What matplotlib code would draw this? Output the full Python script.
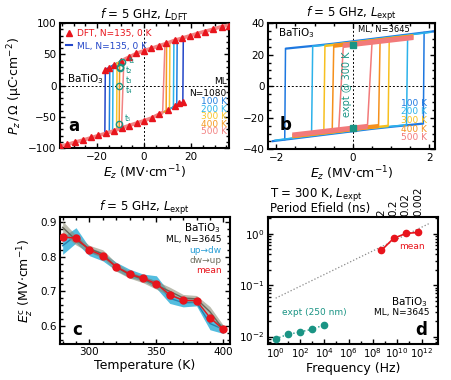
import numpy as np
import matplotlib
matplotlib.use('Agg')
import matplotlib.pyplot as plt
from matplotlib.lines import Line2D
from matplotlib.ticker import AutoMinorLocator, FixedLocator, NullLocator, NullFormatter

#### data

## panel a : DFT cell, lower branch of the loop (upper branch = mirror)
e_low_a = [-37, -33, -29, -25, -21, -17, -13, -9, -5, 0, 3, 6, 9, 12, 15, 17, 20]
p_low_a = [-97.5, -94.5, -90, -86, -81.5, -77, -72.5, -67, -62, -56, -52, -46.5, -41, -35, -29, -25, -19]
e_dft = [-36, -33, -29.5, -26, -22.5, -19.5, -16, -13, -9.5, -6.5, -3, 0, 3.5, 6.5, 10, 13, 15, 16.5]
p_dft = [-96, -94, -90.5, -86.5, -82.5, -79.5, -76, -72.5, -67.5, -64, -60, -56, -51.5, -46, -39, -32.5, -28, -25.5]
labels_a = ['N=135, 0 K', '100 K', '200 K', '300 K', '400 K', '500 K']
ecl_a = [-16.5, -14.6, -13.2, -11.5, -10.4, -8.6]
ecr_a = [16.5, 13.9, 12.5, 10.8, 9.4, 7.9]
t_e = [-9.3, -10.2, -10.4, -10.5, -10.8]
t_p = [38, 30, 28, 0, -62]
t_lab = ['t₁', 't₂', 't₃', 't₄', 't₅']
t_lab_p = [40, 24, 8, -8, -53]

## panel b : expt cell
e_low_b = [-2.4, -2.0, -1.5, -1.0, -0.5, 0, 0.5, 1.0, 1.5, 1.9, 2.4]
p_low_b = [-35.8, -34.5, -33, -31.5, -30, -28.5, -27, -25.7, -24.5, -23.5, -22.3]
temps_b = ['100 K', '200 K', '300 K', '400 K', '500 K']
ecl_b = [-1.76, -1.05, -0.73, -0.50, -0.25]
ecr_b = [1.84, 1.40, 0.92, 0.67, 0.38]
emax_b = [2.12, 2.05, 1.58, 1.58, 1.58]
pscale_b = [1.0, 0.99, 0.97, 0.95, 0.93]
expt_p = [26.2, -26.4]

## panel c : coercive field vs temperature
temp = [280, 290, 300, 310, 320, 330, 340, 350, 360, 370, 380, 390, 400]
ec_mean = [0.857, 0.854, 0.820, 0.803, 0.771, 0.750, 0.738, 0.722, 0.690, 0.674, 0.673, 0.624, 0.590]
ec_up = [0.832, 0.862, 0.815, 0.800, 0.772, 0.752, 0.740, 0.727, 0.680, 0.667, 0.668, 0.607, 0.590]
ec_dw = [0.885, 0.848, 0.823, 0.808, 0.770, 0.748, 0.735, 0.718, 0.700, 0.681, 0.678, 0.641, 0.590]
err_up = [0.025, 0.022, 0.012, 0.012, 0.012, 0.012, 0.010, 0.018, 0.015, 0.012, 0.010, 0.018, 0.012]
err_dw = [0.018, 0.014, 0.010, 0.012, 0.012, 0.010, 0.010, 0.012, 0.012, 0.010, 0.010, 0.015, 0.012]

## panel d : coercive field vs frequency
f_expt = [1, 10, 100, 1000, 10000]
ec_expt = [0.0091, 0.0110, 0.0123, 0.0139, 0.0169]
f_ml = [5e8, 5e9, 5e10, 5e11]
ec_ml = [0.48, 0.82, 1.02, 1.07]
period_lab = ['2', '0.2', '0.02', '0.002']
f_fit = [1, 4.8e12]
ec_fit = [0.056, 1.62]

cols_a = ['#2346c8', '#1f80e0', '#2cb5ea', '#f7c52a', '#f59a22', '#f28383']
cols_b = ['#1e78e0', '#2cb2ea', '#f7c020', '#f5901c', '#f27a7a']
red = '#e8141c'
teal = '#1a9484'

plt.rcParams['font.family'] = ['DejaVu Sans']
plt.rcParams['mathtext.fontset'] = 'dejavusans'


def draw_loop(ax, e_low, p_low, ecl, ecr, emax, color, lw, lw_sw=1.0, w=0.0, scale=1.0, z=2):
    e_low = np.asarray(e_low, float)
    p_low = np.asarray(p_low, float) * scale
    e_up = -e_low[::-1]
    p_up = -p_low[::-1]
    low = lambda e: np.interp(e, e_low, p_low)
    up = lambda e: np.interp(e, e_up, p_up)
    m = (e_low > -emax) & (e_low < ecr)
    ax.plot(np.r_[-emax, e_low[m], ecr], np.r_[low(-emax), p_low[m], low(ecr)],
            color=color, lw=lw, zorder=z, solid_capstyle='butt')
    m = (e_up > ecl) & (e_up < emax)
    ax.plot(np.r_[ecl, e_up[m], emax], np.r_[up(ecl), p_up[m], up(emax)],
            color=color, lw=lw, zorder=z, solid_capstyle='butt')
    ax.plot([ecr, ecr + w], [low(ecr), up(ecr + w)], color=color, lw=lw_sw, zorder=z)
    ax.plot([ecl, ecl - w], [up(ecl), low(ecl - w)], color=color, lw=lw_sw, zorder=z)


def style(ax, minor=True):
    for s in ax.spines.values():
        s.set_linewidth(1.5)
    ax.tick_params(which='both', direction='in', top=True, right=True, labelsize=7.5, width=1)
    ax.tick_params(which='major', length=3.5, pad=2.5)
    ax.tick_params(which='minor', length=2)
    if minor:
        ax.xaxis.set_minor_locator(AutoMinorLocator())
        ax.yaxis.set_minor_locator(AutoMinorLocator())


fig = plt.figure(figsize=(4.51, 3.80), dpi=100)
ax_a = fig.add_axes([0.133, 0.610, 0.375, 0.329])
ax_b = fig.add_axes([0.594, 0.607, 0.371, 0.332])
ax_c = fig.add_axes([0.133, 0.095, 0.377, 0.334])
ax_d = fig.add_axes([0.594, 0.095, 0.377, 0.334])

# ---- a
ax = ax_a
ax.axhline(0, color='k', ls=(0, (2, 2)), lw=0.7, zorder=1)
ax.axvline(0, color='k', ls=(0, (2, 2)), lw=0.7, zorder=1)
for i in range(6):
    lw = 2.6 if i == 5 else 1.1
    draw_loop(ax, e_low_a, p_low_a, ecl_a[i], ecr_a[i], 36, cols_a[i], lw,
              lw_sw=1.1, w=1.0 if i == 5 else 0.2, z=2 + i)
e_d = np.asarray(e_dft)
p_d = np.asarray(p_dft)
ax.plot(np.r_[e_d, -e_d], np.r_[p_d, -p_d], ls='none', marker='^', ms=4.5, color=red, zorder=10)
ax.plot(t_e, t_p, ls='none', marker='o', ms=4.5, mfc='none', mec=teal, mew=1, zorder=11)
for e, p, s in zip(t_e, t_lab_p, t_lab):
    ax.text(e + 2.6, p, s, color=teal, fontsize=5.8, va='center', zorder=11)
h = [Line2D([], [], ls='none', marker='^', ms=4.5, color=red),
     Line2D([], [], color=cols_a[0], lw=1.5)]
ax.legend(h, ['DFT, N=135, 0 K', 'ML, N=135, 0 K'], loc='upper left', frameon=False,
          fontsize=6.5, handlelength=0.7, handletextpad=0.5, labelspacing=0.4,
          borderaxespad=0.25, labelcolor=[red, cols_a[0]])
ax.text(0.04, 0.554, 'BaTiO$_3$', transform=ax.transAxes, fontsize=7.5, va='center')
ax.text(0.985, 0.533, 'ML', transform=ax.transAxes, fontsize=6.5, ha='right', va='center')
ax.text(0.985, 0.435, 'N=1080', transform=ax.transAxes, fontsize=6.5, ha='right', va='center')
for i, yy in enumerate([0.373, 0.313, 0.253, 0.193, 0.133]):
    ax.text(0.985, yy, labels_a[i + 1], transform=ax.transAxes, fontsize=6.5,
            ha='right', va='center', color=cols_a[i + 1])
ax.text(0.05, 0.14, 'a', transform=ax.transAxes, fontsize=12, fontweight='bold')
ax.set_xlim(-35.8, 36.2)
ax.set_ylim(-100, 100)
ax.set_xticks([-20, 0, 20])
ax.set_yticks([-100, -50, 0, 50, 100])
style(ax)
ax.set_xlabel('$E_z$ (MV$\\cdot$cm$^{-1}$)', fontsize=9, labelpad=1)
ax.set_ylabel('$P_z\\,/\\,\\Omega$ (μC$\\cdot$cm$^{-2}$)', fontsize=9, labelpad=2)
ax.set_title('$f$ = 5 GHz, $L_{\\rm DFT}$', fontsize=8.5, pad=3)

# ---- b
ax = ax_b
ax.axhline(0, color='k', ls=(0, (2, 2)), lw=0.7, zorder=1)
ax.axvline(0, color='k', ls=(0, (2, 2)), lw=0.7, zorder=1)
lw_b = [1.6, 1.2, 1.8, 3.0, 3.6]
w_b = [0.02, 0.03, 0.03, 0.04, 0.12]
for i in range(5):
    draw_loop(ax, e_low_b, p_low_b, ecl_b[i], ecr_b[i], emax_b[i], cols_b[i], lw_b[i],
              lw_sw=1.1, w=w_b[i], scale=pscale_b[i], z=2 + i)
ax.plot([0, 0], expt_p, ls='none', marker='s', ms=3.8, color=teal, zorder=10)
ax.text(-0.16, 1, 'expt @ 300 K', color=teal, fontsize=7, rotation=90,
        ha='center', va='center', zorder=10)
ax.text(0.06, 0.923, 'BaTiO$_3$', transform=ax.transAxes, fontsize=7.5, va='center')
ax.text(0.54, 0.952, 'ML, N=3645', transform=ax.transAxes, fontsize=6, va='center')
for i, yy in enumerate([0.365, 0.297, 0.229, 0.161, 0.093]):
    ax.text(0.95, yy, temps_b[i], transform=ax.transAxes, fontsize=6.5,
            ha='right', va='center', color=cols_b[i])
ax.text(0.072, 0.15, 'b', transform=ax.transAxes, fontsize=12, fontweight='bold')
ax.set_xlim(-2.22, 2.15)
ax.set_ylim(-40, 40)
ax.set_xticks([-2, 0, 2])
ax.set_yticks([-40, -20, 0, 20, 40])
style(ax)
ax.set_xlabel('$E_z$ (MV$\\cdot$cm$^{-1}$)', fontsize=9, labelpad=1)
ax.set_title('$f$ = 5 GHz, $L_{\\rm expt}$', fontsize=8.5, pad=3)

# ---- c
ax = ax_c
t = np.asarray(temp)
up = np.asarray(ec_up)
dw = np.asarray(ec_dw)
ax.fill_between(t, up - np.asarray(err_up), up + np.asarray(err_up), color='#35b2da', alpha=0.85, lw=0, zorder=2)
ax.plot(t, up, color='#2382b0', lw=1, zorder=3)
ax.fill_between(t, dw - np.asarray(err_dw), dw + np.asarray(err_dw), color='#8e8e78', alpha=0.6, lw=0, zorder=4)
ax.plot(t, dw, color='#66665a', lw=1, zorder=5)
ax.plot(t, ec_mean, color=red, lw=1, marker='o', ms=5, zorder=6)
ax.text(0.95, 0.916, 'BaTiO$_3$', transform=ax.transAxes, fontsize=7.5, ha='right', va='center')
ax.text(0.95, 0.819, 'ML, N=3645', transform=ax.transAxes, fontsize=6.5, ha='right', va='center')
ax.text(0.95, 0.732, 'up→dw', transform=ax.transAxes, fontsize=6.5, ha='right', va='center', color='#2a9fd6')
ax.text(0.95, 0.654, 'dw→up', transform=ax.transAxes, fontsize=6.5, ha='right', va='center', color='#707060')
ax.text(0.95, 0.58, 'mean', transform=ax.transAxes, fontsize=6.5, ha='right', va='center', color=red)
ax.text(0.07, 0.07, 'c', transform=ax.transAxes, fontsize=12, fontweight='bold')
ax.set_xlim(278, 405)
ax.set_ylim(0.548, 0.915)
ax.set_xticks([300, 350, 400])
ax.set_yticks([0.6, 0.7, 0.8, 0.9])
style(ax)
ax.set_xlabel('Temperature (K)', fontsize=9, labelpad=1)
ax.set_ylabel('$E_z^{\\rm c}$ (MV$\\cdot$cm$^{-1}$)', fontsize=9, labelpad=3)
ax.set_title('$f$ = 5 GHz, $L_{\\rm expt}$', fontsize=8.5, pad=3)

# ---- d
ax = ax_d
ax.set_xscale('log')
ax.set_yscale('log')
ax.plot(f_fit, ec_fit, color='#888888', ls=':', lw=0.9, zorder=2)
ax.plot(f_expt, ec_expt, color=teal, ls=':', lw=1, marker='o', ms=4.5, zorder=3)
ax.plot(f_ml, ec_ml, color=red, lw=1.2, marker='o', ms=4.5, zorder=3)
ax.text(1.6e11, 0.58, 'mean', color=red, fontsize=6.5, ha='center', va='center')
ax.text(3.1, 0.029, 'expt (250 nm)', color=teal, fontsize=6.5, ha='left', va='center')
ax.text(0.941, 0.333, 'BaTiO$_3$', transform=ax.transAxes, fontsize=7.5, ha='right', va='center')
ax.text(0.953, 0.25, 'ML, N=3645', transform=ax.transAxes, fontsize=6.5, ha='right', va='center')
ax.text(0.935, 0.07, 'd', transform=ax.transAxes, fontsize=12, fontweight='bold', ha='right')
ax.set_xlim(0.23, 2.2e13)
ax.set_ylim(0.0072, 2.14)
style(ax, minor=False)
ax.set_xticks([10.0 ** k for k in range(0, 13, 2)])
ax.xaxis.set_minor_locator(FixedLocator([10.0 ** k for k in range(1, 13, 2)]))
ax.xaxis.set_minor_formatter(NullFormatter())
ax.tick_params(axis='x', labelsize=7.3, pad=2)
ax.set_xlabel('Frequency (Hz)', fontsize=9, labelpad=1)
ax2 = ax.twiny()
ax2.set_xscale('log')
ax2.set_xlim(ax.get_xlim())
ax2.set_xticks(f_ml)
ax2.set_xticklabels(period_lab, rotation=90)
ax2.xaxis.set_minor_locator(NullLocator())
ax2.tick_params(direction='in', length=0, labelsize=7.5, pad=1)
for s in ax2.spines.values():
    s.set_visible(False)
ax.text(0.012, 1.063, 'Period Efield (ns)', transform=ax.transAxes, fontsize=8.5, va='center')
ax.text(0.012, 1.175, 'T = 300 K, $L_{\\rm expt}$', transform=ax.transAxes, fontsize=8.5, va='center')

fig.savefig('out.png', dpi=100)
